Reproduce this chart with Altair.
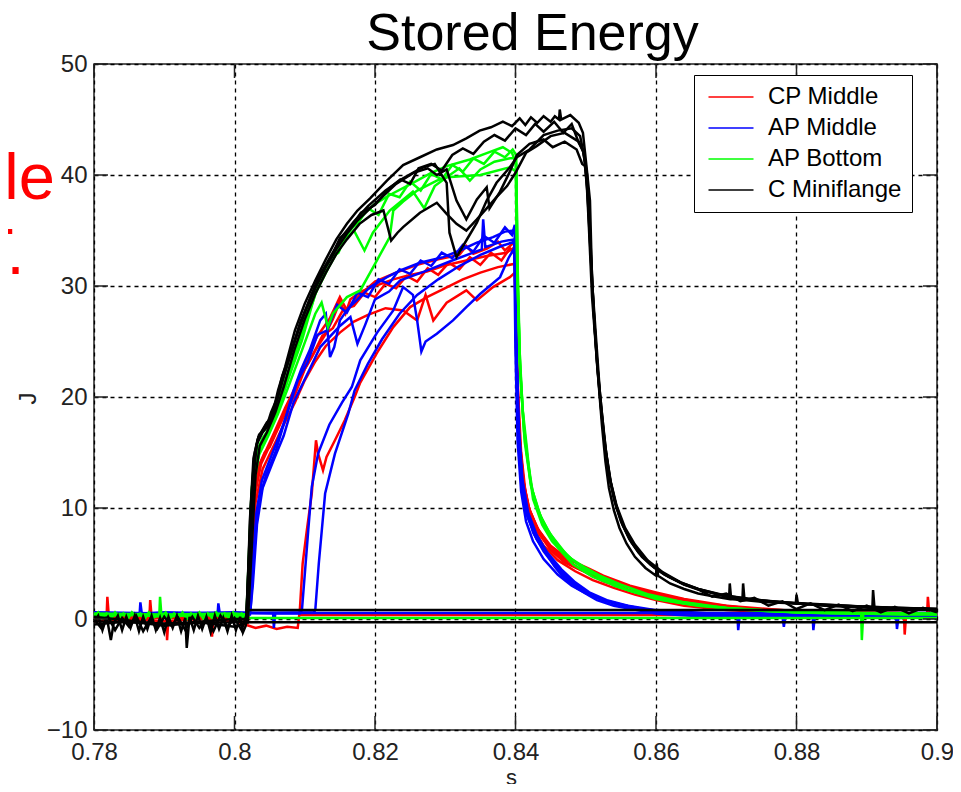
import altair as alt
import pandas as pd

TITLE = "Stored Energy"
SIDE_TEXT = ["le", "T."]
SERIES = ["CP Middle", "AP Middle", "AP Bottom", "C Miniflange"]
COLORS = ["#ff0000", "#0000ff", "#00ff00", "#000000"]
X_TICKS = [0.78, 0.80, 0.82, 0.84, 0.86, 0.88, 0.90]
Y_TICKS = [-10, 0, 10, 20, 30, 40, 50]
X_LABEL = "s"
Y_LABEL = "J"

# ---------------- CP Middle (red) ----------------
CP_H = [[0.8093, 0.35], [0.9000, 0.35]]
CP_A = [[0.7800, 0.3], [0.7818, 0.3], [0.7819, 2.0], [0.7821, 0.3], [0.7850, 0.2], [0.7879, 0.3], [0.7880, 1.7],
        [0.7882, 0.2], [0.7903, 0.1], [0.7904, -1.9], [0.7906, 0.1], [0.7940, 0.3], [0.7967, 0.2], [0.7968, -1.6],
        [0.7970, 0.2], [0.8000, 0.3], [0.8018, 0.2], [0.8022, 3.0], [0.8026, 8.0], [0.8029, 12.5], [0.8036, 14.0],
        [0.8043, 15.0], [0.8050, 15.5], [0.8058, 16.6], [0.8072, 18.5], [0.8086, 20.2], [0.8100, 22.5],
        [0.8115, 24.2], [0.8129, 25.6], [0.8140, 27.0], [0.8150, 28.6], [0.8158, 27.5], [0.8165, 28.8],
        [0.8180, 29.5], [0.8200, 30.0], [0.8226, 30.6], [0.8250, 31.0], [0.8274, 31.3], [0.8302, 31.9],
        [0.8330, 32.3], [0.8359, 32.7], [0.8387, 33.0], [0.8399, 33.5], [0.8401, 26.0], [0.8404, 20.0],
        [0.8408, 15.0], [0.8414, 11.5], [0.8420, 9.8], [0.8435, 7.6], [0.8450, 6.2], [0.8470, 5.1], [0.8490, 4.5],
        [0.8520, 3.7], [0.8555, 3.0], [0.8590, 2.4], [0.8616, 2.0], [0.8650, 1.5], [0.8700, 1.1], [0.8750, 0.8],
        [0.8800, 0.6], [0.8850, 0.5], [0.8953, 0.4], [0.8954, -1.4], [0.8956, 0.4], [0.8986, 0.5], [0.8987, 2.0],
        [0.8989, 0.5], [0.9000, 0.4]]
CP_B = [[0.7800, -0.2], [0.7850, 0.0], [0.7900, -0.2], [0.7950, 0.0], [0.8000, -0.2], [0.8019, -0.3],
        [0.8024, 4.0], [0.8030, 10.5], [0.8040, 13.5], [0.8055, 15.5], [0.8070, 17.5], [0.8086, 19.5],
        [0.8100, 21.5], [0.8115, 23.2], [0.8130, 24.6], [0.8150, 25.8], [0.8170, 26.8], [0.8190, 27.4],
        [0.8215, 28.0], [0.8240, 27.8], [0.8260, 26.9], [0.8272, 29.2], [0.8283, 26.9], [0.8302, 28.5],
        [0.8330, 29.6], [0.8345, 28.7], [0.8368, 29.9], [0.8392, 30.8], [0.8399, 31.2], [0.8402, 22.0],
        [0.8407, 15.0], [0.8415, 10.5], [0.8425, 8.2], [0.8440, 6.6], [0.8460, 5.3], [0.8485, 4.3], [0.8510, 3.5],
        [0.8540, 2.8], [0.8570, 2.2], [0.8600, 1.7], [0.8640, 1.2], [0.8700, 0.8], [0.8800, 0.5], [0.9000, 0.4]]
CP_C = [[0.7800, 0.2], [0.7860, 0.3], [0.7920, 0.2], [0.7980, 0.3], [0.8015, -0.5], [0.8030, -0.8],
        [0.8045, -0.6], [0.8060, -0.9], [0.8075, -0.7], [0.8090, -0.8], [0.8093, 0.8], [0.8097, 5.0],
        [0.8103, 8.0], [0.8110, 11.3], [0.8114, 14.5], [0.8116, 16.1], [0.8119, 14.9], [0.8126, 13.4],
        [0.8131, 14.6], [0.8143, 16.1], [0.8157, 17.9], [0.8171, 20.0], [0.8179, 21.3], [0.8203, 24.0],
        [0.8226, 26.3], [0.8250, 28.1], [0.8274, 29.0], [0.8300, 29.8], [0.8325, 30.6], [0.8350, 31.2],
        [0.8375, 31.7], [0.8399, 32.0], [0.8401, 24.0], [0.8406, 16.0], [0.8412, 12.0], [0.8420, 9.5],
        [0.8432, 7.8], [0.8450, 6.3], [0.8475, 5.0], [0.8500, 4.2], [0.8525, 3.4], [0.8563, 2.6], [0.8606, 2.0],
        [0.8650, 1.4], [0.8720, 0.9], [0.8800, 0.6], [0.8900, 0.4], [0.9000, 0.4]]
CP_D = [[0.7800, 0.1], [0.8018, 0.1], [0.8023, 5.0], [0.8028, 11.0], [0.8035, 13.8], [0.8045, 15.2],
        [0.8058, 17.0], [0.8072, 19.0], [0.8086, 20.8], [0.8100, 23.0], [0.8117, 25.4], [0.8135, 27.0],
        [0.8150, 29.0], [0.8160, 27.8], [0.8175, 29.0], [0.8200, 30.4], [0.8230, 31.2], [0.8260, 31.9],
        [0.8290, 32.4], [0.8320, 32.8], [0.8330, 33.6], [0.8340, 32.9], [0.8360, 33.4], [0.8375, 34.0],
        [0.8385, 33.2], [0.8399, 34.0], [0.8401, 25.0], [0.8405, 17.0], [0.8411, 12.5], [0.8420, 9.8],
        [0.8433, 8.0], [0.8450, 6.6], [0.8475, 5.4], [0.8506, 4.5], [0.8525, 3.9], [0.8563, 3.0], [0.8600, 2.4],
        [0.8640, 1.8], [0.8700, 1.2], [0.8800, 0.7], [0.9000, 0.5]]
CP_E = [[0.7800, 0.2], [0.8000, 0.1], [0.8019, 0.1], [0.8024, 5.5], [0.8030, 11.5], [0.8038, 14.0], [0.8050, 15.6],
        [0.8064, 17.6], [0.8080, 19.8], [0.8095, 22.0], [0.8110, 23.6], [0.8125, 25.5], [0.8140, 26.2],
        [0.8155, 27.9], [0.8170, 28.2], [0.8185, 29.4], [0.8200, 29.0], [0.8215, 30.2], [0.8230, 29.8],
        [0.8245, 30.9], [0.8260, 30.4], [0.8275, 31.6], [0.8290, 31.0], [0.8305, 32.1], [0.8320, 31.5],
        [0.8335, 32.6], [0.8350, 31.9], [0.8365, 33.0], [0.8380, 32.3], [0.8392, 33.4], [0.8399, 32.8],
        [0.8401, 24.0], [0.8405, 16.5], [0.8410, 12.8], [0.8418, 10.2], [0.8430, 8.3], [0.8446, 6.8],
        [0.8466, 5.6], [0.8490, 4.6], [0.8515, 3.9], [0.8545, 3.2], [0.8580, 2.6], [0.8620, 2.0], [0.8670, 1.4],
        [0.8740, 0.9], [0.8850, 0.6], [0.9000, 0.5]]

# ---------------- AP Middle (blue) ----------------
AM_H = [[0.8017, 0.55], [0.9000, 0.55]]
AM_A = [[0.7800, 0.5], [0.7865, 0.5], [0.7866, 1.5], [0.7868, 0.5], [0.7900, 0.6], [0.7976, 0.5], [0.7977, 1.4],
        [0.7979, 0.5], [0.8020, 0.5], [0.8023, 1.0], [0.8028, 6.0], [0.8034, 10.5], [0.8045, 13.0], [0.8058, 15.0],
        [0.8070, 17.5], [0.8084, 20.6], [0.8095, 22.5], [0.8107, 24.2], [0.8122, 26.9], [0.8130, 27.5],
        [0.8136, 23.6], [0.8142, 24.5], [0.8150, 26.9], [0.8162, 28.0], [0.8174, 28.7], [0.8193, 29.9],
        [0.8217, 30.8], [0.8236, 31.4], [0.8264, 32.1], [0.8297, 32.6], [0.8321, 33.2], [0.8345, 33.9],
        [0.8368, 34.4], [0.8385, 34.9], [0.8399, 35.0], [0.8401, 25.0], [0.8404, 17.0], [0.8409, 12.5],
        [0.8416, 9.5], [0.8428, 7.5], [0.8445, 5.8], [0.8456, 4.7], [0.8470, 3.6], [0.8487, 2.8], [0.8505, 2.1],
        [0.8516, 1.7], [0.8540, 1.2], [0.8565, 0.9], [0.8600, 0.5], [0.8650, 0.3], [0.8716, 0.2], [0.8717, -1.0],
        [0.8719, 0.2], [0.8780, 0.2], [0.8782, -0.7], [0.8784, 0.2], [0.8823, 0.2], [0.8824, -1.0], [0.8826, 0.2],
        [0.8942, 0.1], [0.8943, -0.9], [0.8945, 0.1], [0.9000, 0.2]]
AM_B = [[0.7800, 0.4], [0.7900, 0.5], [0.8022, 0.4], [0.8026, 3.0], [0.8032, 8.5], [0.8040, 11.8], [0.8055, 14.2],
        [0.8070, 16.5], [0.8084, 19.5], [0.8107, 22.5], [0.8122, 24.5], [0.8150, 26.4], [0.8165, 27.2],
        [0.8175, 24.8], [0.8186, 26.5], [0.8200, 28.8], [0.8220, 29.5], [0.8236, 30.5], [0.8270, 31.3],
        [0.8310, 32.3], [0.8352, 33.3], [0.8354, 36.0], [0.8357, 33.5], [0.8380, 34.0], [0.8398, 34.2],
        [0.8400, 24.0], [0.8403, 16.0], [0.8408, 11.5], [0.8415, 8.8], [0.8425, 7.0], [0.8440, 5.4], [0.8460, 4.0],
        [0.8480, 3.0], [0.8500, 2.3], [0.8530, 1.6], [0.8560, 1.1], [0.8600, 0.7], [0.8700, 0.4], [0.8800, 0.3],
        [0.9000, 0.3]]
AM_C = [[0.7800, 0.6], [0.7900, 0.5], [0.8000, 0.6], [0.8055, 0.5], [0.8056, -0.8], [0.8058, 0.5], [0.8093, 0.5],
        [0.8096, 0.8], [0.8100, 4.0], [0.8105, 8.0], [0.8110, 11.9], [0.8119, 14.9], [0.8135, 17.5], [0.8153, 19.5],
        [0.8167, 20.9], [0.8179, 23.3], [0.8203, 25.8], [0.8226, 27.8], [0.8240, 29.9], [0.8254, 29.2],
        [0.8260, 26.9], [0.8266, 24.1], [0.8272, 25.0], [0.8288, 25.7], [0.8311, 26.9], [0.8330, 28.1],
        [0.8350, 29.3], [0.8378, 30.8], [0.8390, 32.5], [0.8399, 33.5], [0.8401, 24.0], [0.8404, 16.5],
        [0.8409, 12.0], [0.8417, 9.2], [0.8430, 7.2], [0.8448, 5.5], [0.8470, 4.0], [0.8490, 2.9], [0.8510, 2.1],
        [0.8540, 1.4], [0.8570, 1.0], [0.8620, 0.6], [0.8700, 0.4], [0.8800, 0.3], [0.9000, 0.3]]
AM_D = [[0.7800, 0.5], [0.7950, 0.5], [0.8113, 0.6], [0.8115, 0.8], [0.8120, 5.0], [0.8129, 11.3], [0.8143, 14.9],
        [0.8162, 18.5], [0.8171, 20.6], [0.8190, 23.0], [0.8210, 25.2], [0.8235, 27.5], [0.8260, 29.2],
        [0.8290, 30.6], [0.8320, 31.8], [0.8350, 32.8], [0.8380, 33.6], [0.8399, 34.0], [0.8401, 25.0],
        [0.8405, 17.0], [0.8410, 12.5], [0.8418, 9.6], [0.8430, 7.6], [0.8445, 6.0], [0.8465, 4.5], [0.8485, 3.3],
        [0.8505, 2.4], [0.8530, 1.7], [0.8560, 1.2], [0.8600, 0.8], [0.8700, 0.4], [0.9000, 0.3]]
AM_E = [[0.7800, 0.5], [0.8000, 0.5], [0.8021, 0.5], [0.8025, 4.0], [0.8031, 9.5], [0.8039, 12.5], [0.8050, 14.3],
        [0.8063, 16.4], [0.8076, 18.7], [0.8090, 21.5], [0.8104, 23.1], [0.8118, 25.6], [0.8132, 26.0],
        [0.8146, 28.3], [0.8160, 27.6], [0.8175, 29.4], [0.8190, 29.0], [0.8205, 30.6], [0.8220, 30.2],
        [0.8235, 31.5], [0.8250, 31.1], [0.8265, 32.3], [0.8280, 31.8], [0.8295, 33.0], [0.8310, 32.5],
        [0.8325, 33.7], [0.8340, 33.1], [0.8355, 34.5], [0.8370, 33.9], [0.8385, 35.3], [0.8395, 34.6],
        [0.8399, 35.5], [0.8401, 25.5], [0.8404, 17.5], [0.8409, 12.8], [0.8415, 9.9], [0.8425, 7.8],
        [0.8440, 6.1], [0.8458, 4.6], [0.8475, 3.5], [0.8495, 2.6], [0.8520, 1.8], [0.8550, 1.3], [0.8590, 0.8],
        [0.8650, 0.5], [0.8800, 0.3], [0.9000, 0.2]]

# ---------------- AP Bottom (green) ----------------
AB_H = [[0.8017, 0.1], [0.9000, 0.1]]
AB_A = [[0.7800, 0.3], [0.7806, 0.6], [0.7812, 0.1], [0.7818, 0.5], [0.7824, 0.0], [0.7830, 0.6], [0.7836, 0.1],
        [0.7842, 0.5], [0.7848, 0.0], [0.7854, 0.6], [0.7860, 0.2], [0.7866, 0.5], [0.7872, 0.0], [0.7878, 0.6],
        [0.7884, 0.1], [0.7893, 0.4], [0.7894, 2.0], [0.7896, 0.3], [0.7902, 0.6], [0.7908, 0.0], [0.7914, 0.5],
        [0.7920, 0.1], [0.7926, 0.6], [0.7932, 0.0], [0.7938, 0.5], [0.7944, 0.1], [0.7950, 0.6], [0.7956, 0.0],
        [0.7962, 0.5], [0.7968, 0.1], [0.7974, 0.6], [0.7980, 0.0], [0.7986, 0.5], [0.7992, 0.1], [0.7998, 0.6],
        [0.8004, 0.0], [0.8010, 0.5], [0.8017, 0.3], [0.8020, 5.0], [0.8024, 11.0], [0.8027, 13.5], [0.8033, 15.3],
        [0.8040, 16.3], [0.8050, 17.2], [0.8062, 19.3], [0.8076, 21.8], [0.8090, 24.6], [0.8105, 27.4],
        [0.8118, 29.8], [0.8130, 31.8], [0.8145, 33.4], [0.8160, 34.6], [0.8179, 36.2], [0.8200, 37.4],
        [0.8221, 38.2], [0.8254, 39.3], [0.8280, 40.2], [0.8302, 40.8], [0.8335, 41.4], [0.8360, 42.0],
        [0.8382, 42.5], [0.8395, 42.0], [0.8401, 41.0], [0.8403, 32.0], [0.8406, 24.0], [0.8410, 19.0],
        [0.8416, 15.5], [0.8421, 12.5], [0.8428, 10.5], [0.8440, 8.6], [0.8452, 7.3], [0.8470, 5.9], [0.8490, 4.9],
        [0.8506, 4.3], [0.8530, 3.5], [0.8540, 3.0], [0.8570, 2.4], [0.8610, 1.7], [0.8650, 1.3], [0.8700, 1.0],
        [0.8750, 0.8], [0.8800, 0.6], [0.8850, 0.6], [0.8892, 0.5], [0.8893, -1.9], [0.8895, 0.5], [0.8950, 0.4],
        [0.9000, 0.5]]
AB_B = [[0.7800, 0.2], [0.7850, 0.4], [0.7900, 0.2], [0.7950, 0.4], [0.8000, 0.2], [0.8019, 0.2], [0.8023, 6.0],
        [0.8027, 12.0], [0.8035, 14.8], [0.8048, 16.5], [0.8062, 18.5], [0.8076, 20.8], [0.8096, 24.2],
        [0.8115, 27.5], [0.8124, 28.5], [0.8133, 26.3], [0.8140, 27.5], [0.8160, 29.0], [0.8179, 29.6],
        [0.8200, 32.0], [0.8221, 34.4], [0.8226, 36.8], [0.8240, 37.6], [0.8260, 38.6], [0.8288, 39.5],
        [0.8302, 39.8], [0.8350, 40.0], [0.8392, 40.7], [0.8401, 40.3], [0.8403, 30.0], [0.8407, 22.0],
        [0.8412, 17.0], [0.8419, 13.5], [0.8425, 10.8], [0.8438, 8.5], [0.8452, 7.0], [0.8482, 4.9], [0.8510, 3.8],
        [0.8550, 2.8], [0.8600, 1.8], [0.8660, 1.2], [0.8730, 0.8], [0.8800, 0.6], [0.9000, 0.4]]
AB_C = [[0.7800, 0.4], [0.7900, 0.3], [0.8000, 0.4], [0.8018, 0.3], [0.8022, 7.0], [0.8026, 12.5], [0.8036, 15.2],
        [0.8048, 16.7], [0.8062, 18.8], [0.8076, 21.5], [0.8096, 25.1], [0.8115, 29.3], [0.8135, 31.8],
        [0.8154, 33.9], [0.8170, 35.0], [0.8185, 33.2], [0.8197, 34.8], [0.8221, 36.8], [0.8254, 38.5],
        [0.8270, 37.0], [0.8285, 39.0], [0.8302, 39.8], [0.8320, 40.6], [0.8335, 39.5], [0.8350, 40.5],
        [0.8370, 41.2], [0.8392, 41.5], [0.8400, 41.5], [0.8402, 33.0], [0.8406, 23.0], [0.8413, 16.0],
        [0.8422, 12.0], [0.8436, 9.2], [0.8450, 7.6], [0.8475, 5.6], [0.8500, 4.4], [0.8525, 3.6], [0.8560, 2.6],
        [0.8610, 1.8], [0.8680, 1.1], [0.8760, 0.7], [0.8850, 0.5], [0.9000, 0.4]]
AB_D = [[0.7800, 0.5], [0.7900, 0.4], [0.8000, 0.5], [0.8018, 0.4], [0.8021, 6.0], [0.8025, 12.0], [0.8031, 14.8],
        [0.8040, 16.0], [0.8052, 17.5], [0.8064, 19.9], [0.8078, 22.6], [0.8092, 25.4], [0.8106, 28.1],
        [0.8120, 30.3], [0.8135, 32.4], [0.8148, 33.0], [0.8160, 34.9], [0.8175, 35.6], [0.8190, 37.0],
        [0.8205, 36.4], [0.8220, 38.3], [0.8235, 38.0], [0.8250, 39.4], [0.8265, 38.6], [0.8280, 40.1],
        [0.8295, 39.6], [0.8310, 40.9], [0.8325, 40.3], [0.8340, 41.5], [0.8355, 41.0], [0.8370, 42.1],
        [0.8385, 41.6], [0.8396, 42.3], [0.8401, 41.8], [0.8403, 31.0], [0.8406, 23.5], [0.8411, 18.0],
        [0.8417, 14.5], [0.8424, 11.6], [0.8434, 9.5], [0.8446, 8.0], [0.8462, 6.5], [0.8480, 5.4], [0.8500, 4.6],
        [0.8520, 3.9], [0.8550, 3.1], [0.8590, 2.2], [0.8640, 1.5], [0.8700, 1.0], [0.8800, 0.6], [0.9000, 0.5]]

# ---------------- C Miniflange (black) ----------------
CM_H1 = [[0.8017, 0.8], [0.9000, 0.8]]
CM_H2 = [[0.8017, -0.3], [0.9000, -0.3]]
CM_A = [[0.7800, -0.3], [0.7806, 0.3], [0.7812, -1.0], [0.7818, 0.2], [0.7824, -1.9], [0.7828, -0.4],
        [0.7834, 0.3], [0.7840, -1.0], [0.7846, 0.2], [0.7852, -0.8], [0.7858, 0.3], [0.7864, -1.1], [0.7870, 0.2],
        [0.7876, -0.9], [0.7882, 0.3], [0.7888, -1.0], [0.7894, 0.1], [0.7900, -1.2], [0.7906, 0.2],
        [0.7912, -0.8], [0.7918, 0.3], [0.7924, -1.1], [0.7930, 0.1], [0.7932, -2.6], [0.7936, 0.2],
        [0.7942, -1.0], [0.7948, 0.3], [0.7954, -0.9], [0.7960, 0.2], [0.7966, -1.2], [0.7972, 0.3],
        [0.7978, -0.9], [0.7984, 0.1], [0.7990, -1.1], [0.7996, 0.3], [0.8002, -1.0], [0.8008, 0.2],
        [0.8012, -1.2], [0.8016, -0.6], [0.8017, 0.8], [0.8024, 9.5], [0.8029, 15.0], [0.8034, 16.4],
        [0.8046, 17.7], [0.8053, 18.2], [0.8062, 20.6], [0.8072, 22.7], [0.8086, 26.0], [0.8100, 28.4],
        [0.8115, 30.5], [0.8130, 32.4], [0.8145, 34.2], [0.8160, 35.6], [0.8175, 36.8], [0.8193, 37.9],
        [0.8217, 39.5], [0.8240, 40.9], [0.8264, 41.6], [0.8288, 42.3], [0.8311, 42.7], [0.8330, 43.3],
        [0.8349, 44.0], [0.8365, 44.3], [0.8382, 44.8], [0.8395, 44.4], [0.8406, 45.1], [0.8414, 44.5],
        [0.8422, 45.2], [0.8431, 44.7], [0.8440, 45.3], [0.8450, 44.8], [0.8456, 45.3],
        [0.8462, 45.0], [0.8463, 45.9], [0.8465, 45.0], [0.8478, 45.4], [0.8490, 44.7], [0.8496, 43.8],
        [0.8501, 40.8], [0.8506, 37.7], [0.8509, 30.5], [0.8513, 26.0], [0.8518, 21.5], [0.8523, 17.5],
        [0.8528, 14.2], [0.8533, 11.8], [0.8540, 9.8], [0.8548, 8.2], [0.8558, 6.8], [0.8570, 5.6], [0.8585, 4.6],
        [0.8600, 3.9], [0.8601, 5.0], [0.8603, 3.9], [0.8620, 3.2], [0.8640, 2.7], [0.8660, 2.3], [0.8685, 2.0],
        [0.8704, 1.8], [0.8705, 3.2], [0.8707, 1.8], [0.8723, 1.7], [0.8724, 3.2], [0.8726, 1.7], [0.8760, 1.5],
        [0.8799, 1.4], [0.8800, 2.2], [0.8802, 1.4], [0.8840, 1.2], [0.8872, 1.1], [0.8908, 1.0], [0.8909, 2.6],
        [0.8911, 1.0], [0.8950, 0.9], [0.9000, 0.8]]
CM_B = [[0.7800, 0.0], [0.7810, -0.8], [0.7820, 0.2], [0.7830, -1.0], [0.7840, 0.1], [0.7850, -0.7], [0.7860, 0.3],
        [0.7870, -1.1], [0.7880, 0.0], [0.7890, -0.9], [0.7900, 0.2], [0.7910, -0.6], [0.7920, 0.1],
        [0.7930, -1.0], [0.7940, 0.2], [0.7950, -0.8], [0.7960, 0.0], [0.7970, -1.1], [0.7980, 0.3],
        [0.7990, -0.7], [0.8000, 0.1], [0.8010, -1.0], [0.8018, 0.5], [0.8023, 8.0], [0.8028, 13.5],
        [0.8032, 15.8], [0.8040, 16.8], [0.8050, 17.6], [0.8060, 19.6], [0.8070, 21.8], [0.8085, 24.9],
        [0.8100, 27.6], [0.8115, 29.8], [0.8130, 31.7], [0.8145, 33.3], [0.8160, 34.7], [0.8175, 35.9],
        [0.8193, 37.0], [0.8210, 38.0], [0.8230, 39.2], [0.8255, 40.2], [0.8275, 40.6], [0.8288, 40.0],
        [0.8302, 40.5], [0.8316, 37.7], [0.8330, 36.0], [0.8345, 37.8], [0.8359, 38.9], [0.8363, 37.0],
        [0.8378, 38.5], [0.8392, 40.3], [0.8402, 41.8], [0.8420, 42.8], [0.8440, 43.2], [0.8453, 42.5],
        [0.8470, 43.0], [0.8487, 42.3], [0.8495, 41.0], [0.8499, 40.8], [0.8503, 38.0], [0.8507, 33.0],
        [0.8512, 27.0], [0.8517, 22.5], [0.8523, 18.5], [0.8529, 15.0], [0.8536, 12.2], [0.8544, 10.0],
        [0.8553, 8.4], [0.8565, 6.9], [0.8580, 5.6], [0.8598, 4.6], [0.8618, 3.8], [0.8640, 3.1], [0.8662, 2.6],
        [0.8680, 2.0], [0.8700, 2.3], [0.8720, 1.6], [0.8740, 1.9], [0.8760, 1.2], [0.8780, 1.6], [0.8800, 0.9],
        [0.8820, 1.4], [0.8840, 0.8], [0.8860, 1.3], [0.8880, 0.7], [0.8900, 1.2], [0.8920, 0.6], [0.8940, 1.1],
        [0.8960, 0.5], [0.8980, 1.0], [0.9000, 0.6]]
CM_C = [[0.7800, -0.5], [0.7850, -0.2], [0.7900, -0.6], [0.7950, -0.3], [0.8000, -0.7], [0.8019, -0.3],
        [0.8025, 7.0], [0.8030, 13.0], [0.8036, 15.6], [0.8046, 16.8], [0.8058, 18.6], [0.8070, 20.9],
        [0.8085, 24.2], [0.8100, 27.0], [0.8115, 29.3], [0.8130, 31.2], [0.8145, 32.9], [0.8160, 34.2],
        [0.8178, 35.6], [0.8195, 36.4], [0.8212, 36.8], [0.8223, 34.1], [0.8232, 34.8], [0.8240, 35.3],
        [0.8264, 36.6], [0.8288, 37.5], [0.8302, 36.5], [0.8316, 35.6], [0.8330, 35.0], [0.8345, 36.0],
        [0.8359, 37.0], [0.8373, 38.0], [0.8388, 39.0], [0.8400, 40.2], [0.8415, 42.0], [0.8430, 42.6],
        [0.8450, 43.5], [0.8470, 43.8], [0.8490, 43.0], [0.8497, 42.0], [0.8502, 39.0], [0.8506, 34.0],
        [0.8511, 28.0], [0.8516, 23.0], [0.8522, 18.8], [0.8528, 15.2], [0.8535, 12.4], [0.8543, 10.3],
        [0.8552, 8.6], [0.8563, 7.2], [0.8577, 5.9], [0.8595, 4.8], [0.8616, 3.9], [0.8640, 3.1], [0.8670, 2.5],
        [0.8700, 2.0], [0.8740, 1.7], [0.8780, 1.5], [0.8820, 1.3], [0.8860, 1.2], [0.8900, 1.1], [0.8950, 1.0],
        [0.9000, 0.9]]
CM_D = [[0.7800, -0.2], [0.7900, -0.4], [0.8000, -0.3], [0.8017, -0.2], [0.8022, 9.0], [0.8027, 14.5],
        [0.8033, 16.2], [0.8044, 17.4], [0.8055, 18.5], [0.8065, 20.8], [0.8078, 23.5], [0.8092, 26.3],
        [0.8108, 29.0], [0.8122, 31.0], [0.8138, 32.8], [0.8155, 34.6], [0.8170, 35.8], [0.8190, 37.2],
        [0.8215, 38.6], [0.8240, 39.7], [0.8265, 40.6], [0.8285, 41.0], [0.8302, 39.3], [0.8306, 34.8],
        [0.8316, 32.6], [0.8330, 34.1], [0.8345, 35.7], [0.8359, 37.7], [0.8373, 39.3], [0.8392, 40.7],
        [0.8402, 41.6], [0.8420, 42.3], [0.8440, 43.6], [0.8460, 44.0], [0.8480, 44.2], [0.8492, 43.5],
        [0.8500, 41.0], [0.8504, 36.0], [0.8509, 29.0], [0.8515, 24.0], [0.8521, 19.5], [0.8527, 15.8],
        [0.8535, 12.5], [0.8544, 10.2], [0.8556, 8.2], [0.8570, 6.7], [0.8588, 5.3], [0.8610, 4.2], [0.8635, 3.3],
        [0.8660, 2.7], [0.8700, 2.1], [0.8750, 1.7], [0.8800, 1.4], [0.8870, 1.2], [0.8930, 1.0], [0.9000, 0.9]]
CM_E = [[0.7800, 0.2], [0.7900, -0.5], [0.8000, 0.0], [0.8017, 0.0], [0.8023, 10.0], [0.8028, 14.5],
        [0.8035, 16.6], [0.8045, 17.2], [0.8052, 18.6], [0.8060, 19.8], [0.8068, 21.9], [0.8080, 23.9],
        [0.8094, 26.8], [0.8108, 28.9], [0.8120, 30.8], [0.8136, 32.4], [0.8150, 34.3], [0.8165, 35.2],
        [0.8180, 36.6], [0.8200, 37.3], [0.8220, 38.8], [0.8236, 39.6], [0.8250, 39.2], [0.8262, 40.6],
        [0.8280, 41.0], [0.8295, 40.4], [0.8310, 41.8], [0.8325, 42.4], [0.8340, 41.9], [0.8355, 43.0],
        [0.8370, 43.6], [0.8385, 43.1], [0.8400, 44.2], [0.8415, 43.6], [0.8428, 44.6], [0.8440, 43.9],
        [0.8455, 44.8], [0.8468, 43.8], [0.8480, 44.6], [0.8490, 42.9], [0.8496, 42.2], [0.8502, 40.0],
        [0.8506, 35.0], [0.8510, 29.5], [0.8515, 25.0], [0.8520, 20.5], [0.8526, 16.6], [0.8532, 13.4],
        [0.8540, 10.8], [0.8550, 8.8], [0.8562, 7.2], [0.8575, 6.0], [0.8592, 4.9], [0.8612, 4.0], [0.8635, 3.3],
        [0.8660, 2.7], [0.8690, 2.2], [0.8730, 1.8], [0.8780, 1.5], [0.8840, 1.3], [0.8900, 1.1], [0.9000, 0.9]]

TRACES = [
    ("CP Middle", "CP_H", CP_H), ("CP Middle", "CP_A", CP_A), ("CP Middle", "CP_B", CP_B),
    ("CP Middle", "CP_C", CP_C), ("CP Middle", "CP_D", CP_D), ("CP Middle", "CP_E", CP_E),
    ("AP Middle", "AM_H", AM_H), ("AP Middle", "AM_A", AM_A), ("AP Middle", "AM_B", AM_B),
    ("AP Middle", "AM_C", AM_C), ("AP Middle", "AM_D", AM_D), ("AP Middle", "AM_E", AM_E),
    ("AP Bottom", "AB_H", AB_H), ("AP Bottom", "AB_A", AB_A), ("AP Bottom", "AB_B", AB_B),
    ("AP Bottom", "AB_C", AB_C), ("AP Bottom", "AB_D", AB_D),
    ("C Miniflange", "CM_H1", CM_H1), ("C Miniflange", "CM_H2", CM_H2), ("C Miniflange", "CM_A", CM_A),
    ("C Miniflange", "CM_B", CM_B), ("C Miniflange", "CM_C", CM_C), ("C Miniflange", "CM_D", CM_D),
    ("C Miniflange", "CM_E", CM_E),
]

rows = []
for series, name, pts in TRACES:
    for i, (xv, yv) in enumerate(pts):
        rows.append({"series": series, "trace": name, "i": i, "x": xv, "y": yv})
df = pd.DataFrame(rows)

W, H = 843, 666
FONT = "Liberation Sans"
INK = "#222222"
TICK_LEN = 14

x_scale = alt.Scale(domain=[0.78, 0.90], nice=False, zero=False)
y_scale = alt.Scale(domain=[-10, 50], nice=False, zero=False)

x_axis = alt.Axis(values=X_TICKS, format=".2~f", title=X_LABEL, titleFont=FONT, titleFontSize=22,
                  titleFontWeight="normal", titleColor=INK, titleX=417, titleY=54, titleBaseline="alphabetic",
                  labelFont=FONT, labelFontSize=24, labelColor=INK, labelPadding=10, labelFlush=False,
                  labelOverlap=False, ticks=False, domain=False, grid=True, gridColor="#000000",
                  gridDash=[4, 4], gridWidth=1.3, gridOpacity=1)
y_axis = alt.Axis(values=Y_TICKS, format="d", title=Y_LABEL, titleFont=FONT, titleFontSize=24,
                  titleFontWeight="normal", titleColor=INK, titleX=-66, titleY=334, titleBaseline="middle",
                  titleAlign="center", labelFont=FONT, labelFontSize=24, labelColor=INK, labelPadding=7,
                  labelFlush=False, labelOverlap=False, ticks=False, domain=False, grid=True,
                  gridColor="#000000", gridDash=[4, 4], gridWidth=1.3, gridOpacity=1)

legend = alt.Legend(title=None, orient="none", legendX=600, legendY=11, symbolType="M-1,0H5",
                    symbolSize=225, symbolStrokeWidth=1.5, symbolOffset=0, labelOffset=40,
                    labelFont=FONT, labelFontSize=24, labelColor="#000000", padding=10, rowPadding=7,
                    strokeColor="#000000", fillColor="#ffffff", labelLimit=400,
                    labelExpr="datum.label + '\u2002\u2009'")

lines = alt.Chart(df).mark_line(strokeWidth=2.5).encode(
    x=alt.X("x:Q", scale=x_scale, axis=x_axis),
    y=alt.Y("y:Q", scale=y_scale, axis=y_axis),
    color=alt.Color("series:N", scale=alt.Scale(domain=SERIES, range=COLORS), legend=legend),
    detail="trace:N",
    order=alt.Order("i:Q"),
)

xt = pd.DataFrame({"x": X_TICKS})
yt = pd.DataFrame({"y": Y_TICKS})
tick_style = dict(color=INK, strokeWidth=1.5)
tick_bottom = alt.Chart(xt).mark_rule(**tick_style).encode(
    x=alt.X("x:Q", scale=x_scale), y=alt.value(H), y2=alt.value(H - TICK_LEN))
tick_top = alt.Chart(xt).mark_rule(**tick_style).encode(
    x=alt.X("x:Q", scale=x_scale), y=alt.value(0), y2=alt.value(TICK_LEN))
tick_left = alt.Chart(yt).mark_rule(**tick_style).encode(
    y=alt.Y("y:Q", scale=y_scale), x=alt.value(0), x2=alt.value(TICK_LEN))
tick_right = alt.Chart(yt).mark_rule(**tick_style).encode(
    y=alt.Y("y:Q", scale=y_scale), x=alt.value(W), x2=alt.value(W - TICK_LEN))

title_text = alt.Chart(pd.DataFrame({"t": [TITLE]})).mark_text(
    font=FONT, fontSize=52, color="#000000", align="center", baseline="alphabetic"
).encode(text="t:N", x=alt.value(438.5), y=alt.value(-14))

side1 = alt.Chart(pd.DataFrame({"t": [SIDE_TEXT[0]]})).mark_text(
    font=FONT, fontSize=65, color="#ff0000", align="left", baseline="alphabetic"
).encode(text="t:N", x=alt.value(-89.7), y=alt.value(135))
side2 = alt.Chart(pd.DataFrame({"t": [SIDE_TEXT[1]]})).mark_text(
    font=FONT, fontSize=65, color="#ff0000", align="left", baseline="alphabetic"
).encode(text="t:N", x=alt.value(-120), y=alt.value(210))

chart = alt.layer(
    lines, tick_bottom, tick_top, tick_left, tick_right, title_text, side1, side2
).properties(
    width=W, height=H,
    autosize=alt.AutoSizeParams(type="none"),
    padding={"left": 86, "top": 56, "right": 16, "bottom": 54},
    background="#ffffff",
).configure_view(stroke=INK, strokeWidth=1.5)

chart.save("out.html", embed_options={"renderer": "svg", "actions": False})
